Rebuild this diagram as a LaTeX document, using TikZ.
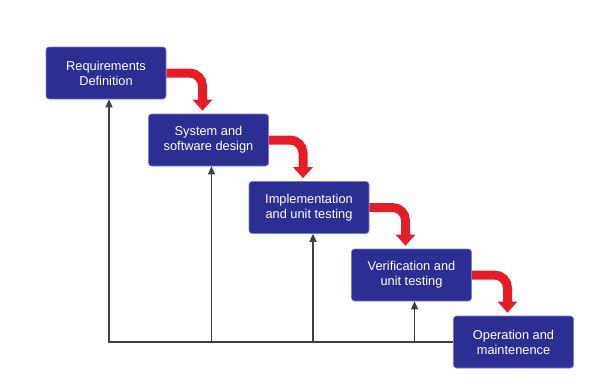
\documentclass[tikz,border=0pt]{standalone}
\usepackage{fontspec}
\setmainfont{Liberation Sans}
\usetikzlibrary{arrows.meta}
\definecolor{phaseblue}{RGB}{44,46,145}
\definecolor{phaseedge}{RGB}{120,124,215}
\definecolor{flowred}{RGB}{228,30,38}
\tikzset{
	phase/.style={rectangle, rounded corners=3pt, fill=phaseblue, draw=phaseedge, line width=.6pt,
		minimum width=120pt, minimum height=52pt, align=center, text=white,
		font=\fontsize{12.8}{15}\selectfont, inner sep=1pt},
	flow/.style={draw=flowred, line width=9pt, rounded corners=13pt,
		-{Triangle[width=19pt,length=11pt]}},
	back/.style={draw=black!75, line width=1.3pt, -{Triangle[width=7pt,length=8pt]}}
}
\begin{document}
\begin{tikzpicture}[x=1pt, y=-1pt]
	\useasboundingbox (0,0) rectangle (598,388);
	\node[phase] (req) at (106,73)    {Requirements\\Definition};
	\node[phase] (des) at (208.5,140) {System and\\software design};
	\node[phase] (imp) at (309,207.5) {Implementation\\and unit testing};
	\node[phase] (ver) at (411.5,275) {Verification and\\unit testing};
	\node[phase] (ope) at (513.5,342) {Operation and\\maintenence};
	% waterfall
	\draw[flow] (req.east) -- ([xshift=-6pt]des.north |- req.east) -- ([xshift=-6pt,yshift=3pt]des.north);
	\draw[flow] (des.east) -- ([xshift=-6pt]imp.north |- des.east) -- ([xshift=-6pt,yshift=3pt]imp.north);
	\draw[flow] (imp.east) -- ([xshift=-6pt]ver.north |- imp.east) -- ([xshift=-6pt,yshift=3pt]ver.north);
	\draw[flow] (ver.east) -- ([xshift=-6pt]ope.north |- ver.east) -- ([xshift=-6pt,yshift=3pt]ope.north);
	% feedback
	\coordinate (reqfoot) at ([xshift=3pt]req.south);
	\coordinate (desfoot) at ([xshift=3pt]des.south);
	\coordinate (impfoot) at ([xshift=4pt]imp.south);
	\coordinate (verfoot) at ([xshift=3pt]ver.south);
	\draw[back] (ope.west) -| (reqfoot);
	\draw[back] (ope.west -| desfoot) -- (desfoot);
	\draw[back] (ope.west -| impfoot) -- (impfoot);
	\draw[back] (ope.west -| verfoot) -- (verfoot);
\end{tikzpicture}
\end{document}
